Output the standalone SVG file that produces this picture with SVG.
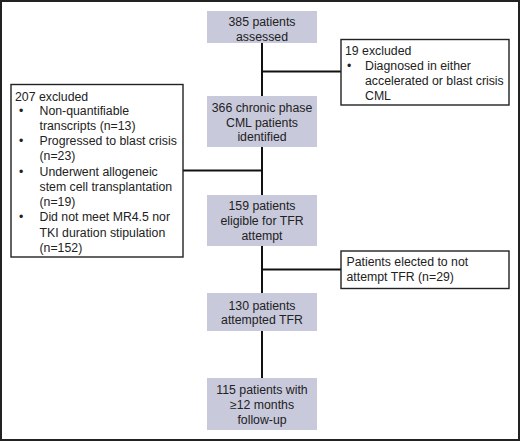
<svg xmlns="http://www.w3.org/2000/svg" width="520" height="441" viewBox="0 0 520 441">
<style>
text{font-family:"Liberation Sans",Arial,sans-serif;font-size:12.3px;fill:#222}
.c{text-anchor:middle}
.n{fill:#c9c9dc;stroke:none}
.b{fill:#fff;stroke:#222;stroke-width:1.4}
.l{stroke:#111;stroke-width:2;fill:none}
</style>
<rect x="1" y="1" width="518" height="439" fill="#fff" stroke="#222" stroke-width="2"/>
<g id="connectors">
<line class="l" x1="262" y1="43" x2="262" y2="96"/>
<line class="l" x1="262" y1="147" x2="262" y2="195"/>
<line class="l" x1="262" y1="246" x2="262" y2="293"/>
<line class="l" x1="262" y1="331" x2="262" y2="378"/>
<line class="l" x1="262" y1="71.5" x2="341" y2="71.5"/>
<line class="l" x1="183" y1="170.5" x2="262" y2="170.5"/>
<line class="l" x1="262" y1="269.5" x2="341" y2="269.5"/>
</g>
<g id="n385">
<rect class="n" x="207" y="11" width="110" height="32"/>
<text class="c" x="262" y="26">385 patients</text>
<text class="c" x="262" y="40.5">assessed</text>
</g>
<g id="ex19">
<rect class="b" x="341" y="39.5" width="168" height="65.5"/>
<text x="345" y="55">19 excluded</text>
<text x="347" y="70">•</text>
<text x="365" y="70">Diagnosed in either</text>
<text x="365" y="85">accelerated or blast crisis</text>
<text x="365" y="100">CML</text>
</g>
<g id="n366">
<rect class="n" x="207" y="96" width="110" height="51"/>
<text class="c" x="262" y="112">366 chronic phase</text>
<text class="c" x="262" y="126.5">CML patients</text>
<text class="c" x="262" y="141">identified</text>
</g>
<g id="ex207">
<rect class="b" x="11" y="84.5" width="172" height="172.5"/>
<text x="15" y="100.5">207 excluded</text>
<text x="19" y="115">•</text>
<text x="39.5" y="115">Non-quantifiable</text>
<text x="39.5" y="130">transcripts (n=13)</text>
<text x="19" y="145">•</text>
<text x="39.5" y="145">Progressed to blast crisis</text>
<text x="39.5" y="160">(n=23)</text>
<text x="19" y="175.5">•</text>
<text x="39.5" y="175.5">Underwent allogeneic</text>
<text x="39.5" y="190.5">stem cell transplantation</text>
<text x="39.5" y="206">(n=19)</text>
<text x="19" y="221">•</text>
<text x="39.5" y="221">Did not meet MR4.5 nor</text>
<text x="39.5" y="236.5">TKI duration stipulation</text>
<text x="39.5" y="252">(n=152)</text>
</g>
<g id="n159">
<rect class="n" x="207" y="195" width="110" height="51"/>
<text class="c" x="262" y="209.5">159 patients</text>
<text class="c" x="262" y="224.5">eligible for TFR</text>
<text class="c" x="262" y="239.5">attempt</text>
</g>
<g id="ex29">
<rect class="b" x="341" y="251" width="168" height="37.5"/>
<text x="346.5" y="266">Patients elected to not</text>
<text x="346.5" y="281">attempt TFR (n=29)</text>
</g>
<g id="n130">
<rect class="n" x="207" y="293" width="110" height="38"/>
<text class="c" x="262" y="309.5">130 patients</text>
<text class="c" x="262" y="324">attempted TFR</text>
</g>
<g id="n115">
<rect class="n" x="207" y="378" width="110" height="52"/>
<text class="c" x="262" y="393.5">115 patients with</text>
<text class="c" x="262" y="408.5">≥12 months</text>
<text class="c" x="262" y="423.5">follow-up</text>
</g>
</svg>
